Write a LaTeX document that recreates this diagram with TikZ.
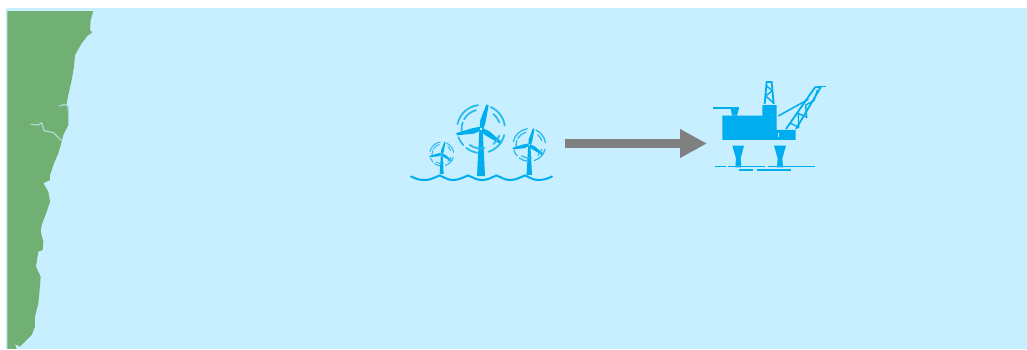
\documentclass[tikz,border=0pt]{standalone}
\usepackage{tikz}
\usetikzlibrary{arrows.meta}
\definecolor{seablue}{RGB}{199, 239, 255}
\definecolor{landgreen}{RGB}{112, 176, 114}
\definecolor{iconblue}{RGB}{0, 174, 239}
\definecolor{arrowgray}{RGB}{128, 128, 128}
\tikzset{
	iconline/.style={draw=iconblue, line width=1.5pt},
	river/.style={draw=seablue!70!landgreen, line width=1.2pt},
	flow/.style={draw=arrowgray, line width=8.7pt, -{Triangle[length=27pt,width=27pt]}},
	pics/turbine/.style={code={
		\begin{scope}[y=1pt]
		\fill[iconblue] (-1.6,0) -- (1.6,0) -- (4,-#1) -- (-4,-#1) -- cycle;
		\foreach \a in {75,192,-35}
			\fill[iconblue, rotate=\a] (0,-2.4) -- (8,-2.6) -- (25,-1.2) -- (25,1.2) -- (8,3) -- (0,1.4) -- cycle;
		\fill[seablue] (0,0) circle (1.3);
		\foreach \s/\e/\r in {97/168/24, 8/66/24, 200/222/24, 232/262/24, 288/345/24,
			105/150/19.5, 160/185/19.5, 20/50/19.5, 235/280/19.5, 310/340/19.5}
			\draw[draw=iconblue!80!seablue, line cap=round] (\s:\r) arc[start angle=\s, end angle=\e, radius=\r];
		\end{scope}
	}}
}
\begin{document}
\begin{tikzpicture}[x=1pt, y=-1pt]
	\useasboundingbox (0,0) rectangle (1027,349);
	\fill[seablue] (6,8) rectangle (1027,349);

	% land, traced at 3x
	\begin{scope}[x=0.3333pt, y=-0.3333pt]
		\fill[landgreen] (22,33) -- (280,33) -- (272,60) -- (270,90) -- (277,97) -- (262,108) -- (245,130)
			-- (225,165) -- (222,200) -- (215,240) -- (205,285) -- (200,310) -- (205,330) -- (205,375)
			-- (190,405) -- (185,425) -- (175,460) -- (162,490) -- (150,525) -- (150,540)
			-- (130,550) -- (145,575) -- (150,605) -- (140,635) -- (125,675) -- (122,695) -- (130,725)
			-- (128,750) -- (115,755) -- (108,800) -- (122,830) -- (118,880) -- (115,910) -- (105,950)
			-- (105,980) -- (95,1005) -- (60,1040) -- (45,1032) -- (50,1047) -- (22,1047) -- cycle;
		\draw[river] (178,318) -- (195,313) -- (205,320) -- (205,332);
		\draw[river] (92,373) -- (115,375) -- (125,368) -- (132,392) -- (160,398) -- (185,422);
	\end{scope}

	% wind farm
	\coordinate (bighub) at (481,129);
	\coordinate (midhub) at (529.3,145);
	\coordinate (smallhub) at (441.7,154);
	\pic[line width=1.8pt] at (bighub) {turbine=47};
	\pic[scale=0.68, line width=1.3pt] at (midhub) {turbine=44};
	\pic[scale=0.5, line width=1pt] at (smallhub) {turbine=40};
	\draw[iconline, line width=2pt, line cap=round] (411,176.5) to[out=-25, in=180] (425,180) to[out=0, in=200] (439.5,175.5)
		to[out=-20, in=180] (453,180) to[out=0, in=200] (468,175.5)
		to[out=-20, in=180] (482,180) to[out=0, in=200] (496.5,175.5)
		to[out=-20, in=180] (510,180) to[out=0, in=200] (525,175.5)
		to[out=-20, in=180] (538,180) to[out=0, in=205] (552,176.5);

	% rig, traced at 3x
	\begin{scope}[shift={(690,70)}, x=0.3333pt, y=-0.3333pt]
		\fill[iconblue] (97,137) -- (217,137) -- (217,105) -- (260,105) -- (260,180) -- (317,180)
			-- (317,210) -- (97,210) -- cycle;
		\draw[seablue, line width=0.6pt] (264,188) -- (264,202);
		\fill[iconblue] (122,114) -- (147,114) -- (141,137) -- (126,137) -- cycle;
		\draw[iconline, line width=2pt] (70,114) -- (147,114);
		% derrick
		\draw[iconline, line width=1.8pt] (224,102) -- (230,36) -- (245,36) -- (251,102);
		\draw[iconline, line width=1.4pt] (230,48) -- (247,62) -- (227,78) -- (250,98);
		% crane
		\draw[iconline, line width=1.8pt] (288,177) -- (375,52) -- (392,52) -- (318,177);
		\draw[iconline, line width=1.4pt] (302,160) -- (326,172) -- (325,130) -- (350,142) -- (347,105) -- (372,92) -- (382,60);
		\draw[iconline, line width=1.5pt] (380,50) -- (407,50);
		\draw[iconline, line width=1.5pt] (265,138) -- (355,88);
		% legs
		\fill[iconblue] (127,227) -- (162,227) -- (152,265) -- (154,292) -- (136,292) -- (138,265) -- cycle;
		\fill[iconblue] (252,227) -- (288,227) -- (277,265) -- (279,292) -- (261,292) -- (263,265) -- cycle;
		% water
		\draw[iconline, line width=1.1pt] (75,290) -- (107,290);
		\draw[iconline, line width=1.1pt] (115,290) -- (225,290);
		\draw[iconline, line width=1.1pt] (235,290) -- (375,290);
		\draw[iconline, line width=1.1pt] (147,300) -- (190,300);
		\draw[iconline, line width=1.1pt] (200,300) -- (303,300);
	\end{scope}

	\coordinate (farm) at (565,143.5);
	\coordinate (rig) at (707,143.5);
	\draw[flow] (farm) -- (rig);
\end{tikzpicture}
\end{document}
